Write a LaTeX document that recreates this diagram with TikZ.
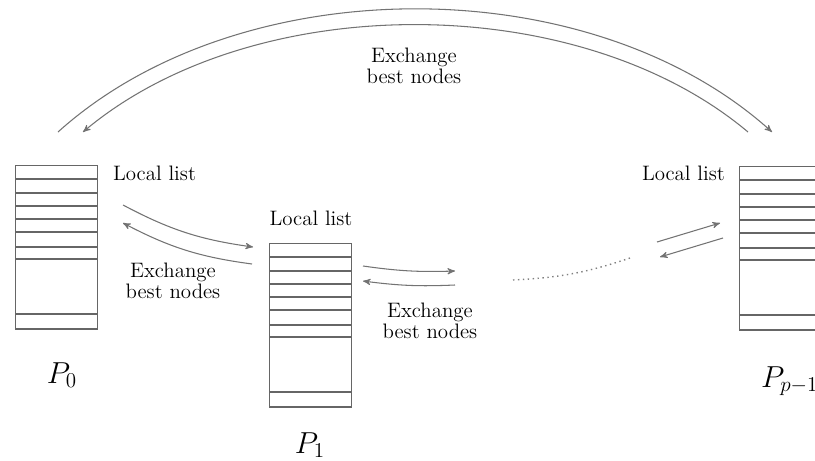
\documentclass[tikz,border=0pt]{standalone}
\usepackage{tikz}
\usetikzlibrary{arrows}

\begin{document}
\begin{tikzpicture}[x=0.02cm, y=-0.02cm, >=stealth',
  listbox/.style={draw=black!60, line width=0.8pt, minimum width=1.64cm, minimum height=3.27cm, inner sep=0pt},
  listline/.style={draw=black!60, line width=0.8pt},
  listtxt/.style={font=\fontsize{11.9}{14}\selectfont, inner sep=1pt},
  xtxt/.style={align=center, font=\fontsize{11.9}{10.5}\selectfont, inner sep=1pt},
  ptxt/.style={font=\LARGE, inner sep=1pt},
  xarrow/.style={->, draw=black!55, line width=0.6pt},
  dotline/.style={dotted, draw=black!50, line width=0.8pt}]
\useasboundingbox (0,0) rectangle (815,460);

% Local lists
\node[listbox, anchor=north west] (p0) at (15,165) {};
\node[listbox, anchor=north west] (p1) at (269,243) {};
\node[listbox, anchor=north west] (pp) at (739,166) {};
\foreach \l in {p0,p1,pp} {
  \foreach \d in {14,28,41,54,67,82,94,149} {
    \draw[listline] ([yshift=-\d*0.02cm]\l.north west) -- ([yshift=-\d*0.02cm]\l.north east);
  }
}

% Labels
\node[listtxt, anchor=west] (l0) at (111,173) {Local list};
\node[listtxt] (l1) at (311,218) {Local list};
\node[listtxt, anchor=east] (lp) at (727,173) {Local list};
\node[ptxt] (n0) at (62,375) {$P_0$};
\node[ptxt] (n1) at (310,445) {$P_1$};
\node[ptxt, anchor=west] (np) at (759,381) {$P_{p-1}$};

% Exchange between P0 and P(p-1)
\node[xtxt] (x0) at (414,66) {Exchange\\best nodes};
\coordinate (ta) at (58,132);
\coordinate (tb) at (772,132);
\coordinate (tc) at (748,132);
\coordinate (td) at (83,132);
\draw[xarrow] (ta) .. controls (240,-32) and (590,-32) .. (tb);
\draw[xarrow] (tc) .. controls (578,-11) and (253,-11) .. (td);

% Exchange between P0 and P1
\node[xtxt] (x1) at (173,281) {Exchange\\best nodes};
\coordinate (a1) at (123,205);
\coordinate (a2) at (253,247);
\coordinate (a3) at (252,264);
\coordinate (a4) at (123,223);
\draw[xarrow] (a1) to[bend right=10] (a2);
\draw[xarrow] (a3) to[bend left=10] (a4);

% Exchange after P1
\node[xtxt] (x2) at (430,321) {Exchange\\best nodes};
\coordinate (b1) at (363,266);
\coordinate (b2) at (455,271);
\coordinate (b3) at (455,285);
\coordinate (b4) at (363,281);
\draw[xarrow] (b1) to[bend right=5] (b2);
\draw[xarrow] (b3) to[bend left=5] (b4);

% dots
\coordinate (d1) at (513,280);
\coordinate (d2) at (633,257);
\draw[dotline] (d1) to[bend right=8] (d2);

% Exchange before P(p-1)
\coordinate (c1) at (657,242);
\coordinate (c2) at (720,223);
\coordinate (c3) at (723,238);
\coordinate (c4) at (660,257);
\draw[xarrow] (c1) -- (c2);
\draw[xarrow] (c3) -- (c4);
\end{tikzpicture}
\end{document}
